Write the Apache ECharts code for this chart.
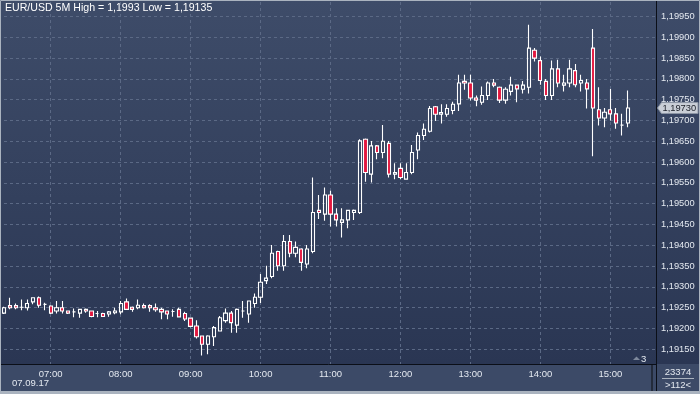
<!DOCTYPE html>
<html><head><meta charset="utf-8">
<script src="https://cdn.jsdelivr.net/npm/echarts@6/dist/echarts.min.js"></script>
<style>html,body{margin:0;padding:0;background:#2f3c58;}#c{width:700px;height:394px;}</style>
</head><body><div id="c"></div>
<script>
const times = ['06:20','06:25','06:30','06:35','06:40','06:45','06:50','06:55',
'07:00','07:05','07:10','07:15','07:20','07:25','07:30','07:35','07:40','07:45','07:50','07:55',
'08:00','08:05','08:10','08:15','08:20','08:25','08:30','08:35','08:40','08:45','08:50','08:55',
'09:00','09:05','09:10','09:15','09:20','09:25','09:30','09:35','09:40','09:45','09:50','09:55',
'10:00','10:05','10:10','10:15','10:20','10:25','10:30','10:35','10:40','10:45','10:50','10:55',
'11:00','11:05','11:10','11:15','11:20','11:25','11:30','11:35','11:40','11:45','11:50','11:55',
'12:00','12:05','12:10','12:15','12:20','12:25','12:30','12:35','12:40','12:45','12:50','12:55',
'13:00','13:05','13:10','13:15','13:20','13:25','13:30','13:35','13:40','13:45','13:50','13:55',
'14:00','14:05','14:10','14:15','14:20','14:25','14:30','14:35','14:40','14:45','14:50','14:55',
'15:00','15:05','15:10','15:15'];
const emptySlots = ['15:20','15:25','15:30','15:35','15:40'];

const opens = [1.19237,1.19255,1.19255,1.19251,1.19250,1.19264,1.19274,1.19258,
1.19254,1.19242,1.19250,1.19242,1.19240,1.19237,1.19246,1.19242,1.19236,1.19236,1.19235,1.19238,
1.19240,1.19264,1.19251,1.19250,1.19255,1.19255,1.19250,1.19246,1.19242,1.19241,1.19246,1.19236,
1.19225,1.19206,1.19182,1.19162,1.19180,1.19194,1.19219,1.19237,1.19208,1.19242,1.19235,1.19260,
1.19275,1.19315,1.19325,1.19385,1.19351,1.19409,1.19381,1.19391,1.19355,1.19385,1.19484,1.19475,
1.19521,1.19475,1.19455,1.19461,1.19479,1.19479,1.19655,1.19571,1.19639,1.19623,1.19645,1.19571,
1.19585,1.19559,1.19575,1.19629,1.19664,1.19674,1.19733,1.19715,1.19715,1.19724,1.19740,1.19794,
1.19790,1.19754,1.19744,1.19760,1.19790,1.19780,1.19749,1.19770,1.19785,1.19775,1.19780,1.19869,
1.19844,1.19794,1.19760,1.19824,1.19785,1.19790,1.19820,1.19790,1.19790,1.19874,1.19726,1.19706,
1.19726,1.19716,1.19689,1.19694];
const highs = [1.19252,1.19274,1.19260,1.19270,1.19270,1.19274,1.19277,1.19262,
1.19256,1.19266,1.19266,1.19243,1.19248,1.19246,1.19248,1.19243,1.19242,1.19238,1.19242,1.19250,
1.19266,1.19272,1.19253,1.19270,1.19260,1.19258,1.19260,1.19250,1.19242,1.19246,1.19250,1.19240,
1.19226,1.19220,1.19182,1.19184,1.19206,1.19230,1.19248,1.19242,1.19248,1.19266,1.19266,1.19284,
1.19331,1.19351,1.19401,1.19387,1.19425,1.19425,1.19409,1.19393,1.19401,1.19563,1.19521,1.19539,
1.19531,1.19489,1.19489,1.19484,1.19486,1.19655,1.19657,1.19651,1.19641,1.19689,1.19651,1.19597,
1.19597,1.19597,1.19641,1.19671,1.19693,1.19735,1.19735,1.19739,1.19739,1.19745,1.19810,1.19810,
1.19810,1.19760,1.19782,1.19794,1.19800,1.19782,1.19780,1.19805,1.19785,1.19795,1.19930,1.19874,
1.19854,1.19800,1.19844,1.19846,1.19810,1.19846,1.19836,1.19810,1.19800,1.19920,1.19780,1.19730,
1.19776,1.19730,1.19716,1.19772];
const lows = [1.19235,1.19246,1.19246,1.19244,1.19243,1.19258,1.19250,1.19244,
1.19235,1.19236,1.19236,1.19235,1.19227,1.19226,1.19238,1.19227,1.19227,1.19228,1.19228,1.19234,
1.19234,1.19245,1.19240,1.19246,1.19248,1.19240,1.19240,1.19222,1.19222,1.19228,1.19227,1.19218,
1.19203,1.19176,1.19135,1.19138,1.19158,1.19194,1.19214,1.19190,1.19190,1.19226,1.19214,1.19250,
1.19261,1.19307,1.19321,1.19339,1.19339,1.19371,1.19371,1.19339,1.19345,1.19381,1.19463,1.19459,
1.19445,1.19445,1.19419,1.19441,1.19461,1.19475,1.19553,1.19551,1.19607,1.19609,1.19563,1.19559,
1.19559,1.19559,1.19571,1.19607,1.19653,1.19671,1.19699,1.19693,1.19709,1.19715,1.19723,1.19774,
1.19748,1.19734,1.19738,1.19749,1.19780,1.19742,1.19740,1.19760,1.19744,1.19765,1.19765,1.19842,
1.19786,1.19749,1.19749,1.19780,1.19770,1.19780,1.19780,1.19770,1.19729,1.19614,1.19688,1.19684,
1.19700,1.19680,1.19664,1.19684];
const closes = [1.19250,1.19250,1.19250,1.19251,1.19260,1.19274,1.19256,1.19258,
1.19237,1.19250,1.19242,1.19237,1.19240,1.19246,1.19242,1.19229,1.19236,1.19229,1.19240,1.19242,
1.19260,1.19246,1.19246,1.19256,1.19250,1.19250,1.19245,1.19240,1.19235,1.19241,1.19228,1.19223,
1.19205,1.19180,1.19162,1.19182,1.19202,1.19226,1.19237,1.19214,1.19246,1.19242,1.19266,1.19275,
1.19311,1.19321,1.19381,1.19351,1.19409,1.19381,1.19395,1.19359,1.19391,1.19479,1.19479,1.19521,
1.19475,1.19461,1.19461,1.19484,1.19484,1.19651,1.19575,1.19639,1.19623,1.19650,1.19571,1.19575,
1.19563,1.19575,1.19623,1.19664,1.19679,1.19729,1.19715,1.19719,1.19729,1.19739,1.19790,1.19790,
1.19754,1.19749,1.19760,1.19790,1.19785,1.19749,1.19775,1.19785,1.19776,1.19785,1.19874,1.19850,
1.19796,1.19760,1.19824,1.19790,1.19790,1.19824,1.19786,1.19796,1.19776,1.19730,1.19706,1.19720,
1.19716,1.19694,1.19689,1.19730];

const yTicks = [1.1915,1.1920,1.1925,1.1930,1.1935,1.1940,1.1945,1.1950,1.1955,1.1960,1.1965,1.1970,1.1975,1.1980,1.1985,1.1990,1.1995];
const dateLabel = '07.09.17';
const titleText = 'EUR/USD 5M';
const volumeText = '23374';
const barsText = '>112<';
const markerText = '3';

const fmt = v => String(v).replace('.', ',');
const categories = times.concat(emptySlots);
const candleData = times.map((t, i) => [opens[i], closes[i], lows[i], highs[i]]);
const hi = Math.max.apply(null, highs), lo = Math.min.apply(null, lows);
const lastClose = closes[closes.length - 1];

const FONT = 'Liberation Sans';
const TXT = '#e4e9f0';
const isHour = (i, v) => /:00$/.test(v);

const chart = echarts.init(document.getElementById('c'), null, {renderer: 'canvas'});
chart.setOption({
  animation: false,
  backgroundColor: 'transparent',
  grid: {left: 4, right: 43, top: 2, bottom: 30, containLabel: false},
  xAxis: {
    type: 'category', data: categories, boundaryGap: false,
    axisLine: {show: false}, axisTick: {show: false},
    axisLabel: {interval: isHour, color: TXT, fontFamily: FONT, fontSize: 9.5, margin: 5},
    splitLine: {show: true, interval: isHour, lineStyle: {color: '#5b6985', type: [3, 3], width: 1}}
  },
  yAxis: {
    type: 'value', position: 'right', min: 1.1911466, max: 1.1998486,
    axisLine: {show: false},
    axisTick: {show: false, customValues: yTicks},
    axisLabel: {customValues: yTicks, color: TXT, fontFamily: FONT, fontSize: 9.3, margin: 4,
      formatter: v => v.toFixed(5).replace('.', ',')},
    splitLine: {show: true, lineStyle: {color: '#5b6985', type: [3, 3], width: 1}}
  },
  series: [{
    type: 'candlestick', data: candleData, barWidth: 3.7, clip: true,
    itemStyle: {color: 'transparent', color0: '#e3173e', borderColor: '#ffffff', borderColor0: '#ffffff', borderColorDoji: '#ffffff', borderWidth: 1.1}
  }]
});

const yLast = chart.convertToPixel({yAxisIndex: 0}, lastClose);
chart.setOption({
  graphic: [
    {type: 'rect', z: -10, shape: {x: 0, y: 0, width: 700, height: 364},
      style: {fill: new echarts.graphic.LinearGradient(0, 0, 0, 1, [{offset: 0, color: '#3e4c69'}, {offset: 1, color: '#2a3653'}])}},
    {type: 'rect', z: -10, shape: {x: 0, y: 364, width: 700, height: 30}, style: {fill: '#3c4a67'}},
    {type: 'line', z: 50, shape: {x1: 0, y1: 364.5, x2: 657, y2: 364.5}, style: {stroke: '#0b0f18', lineWidth: 1}},
    {type: 'line', z: 50, shape: {x1: 656.5, y1: 0, x2: 656.5, y2: 394}, style: {stroke: '#0b0f18', lineWidth: 1}},
    {type: 'rect', z: 50, shape: {x: 651, y: 365, width: 2, height: 26}, style: {fill: '#232b3b'}},
    {type: 'rect', z: 60, shape: {x: 0.5, y: 0.5, width: 699, height: 393}, style: {fill: 'none', stroke: '#aab3bf', lineWidth: 1}},
    {type: 'rect', z: 60, shape: {x: 0, y: 391, width: 700, height: 3}, style: {fill: '#aab3bf'}},
    {type: 'text', z: 60, x: 5, y: 8, style: {text: titleText + ' High = ' + fmt(hi) + ' Low = ' + fmt(lo), fill: '#ffffff', font: '10.6px "' + FONT + '"', verticalAlign: 'middle'}},
    {type: 'text', z: 60, x: 12, y: 383, style: {text: dateLabel, fill: TXT, font: '9.5px "' + FONT + '"', verticalAlign: 'middle'}},
    {type: 'text', z: 60, x: 678, y: 372, style: {text: volumeText, fill: TXT, font: '9.5px "' + FONT + '"', align: 'center', verticalAlign: 'middle'}},
    {type: 'line', z: 60, shape: {x1: 662, y1: 378.5, x2: 694, y2: 378.5}, style: {stroke: '#aab3bf', lineWidth: 1}},
    {type: 'text', z: 60, x: 678, y: 385, style: {text: barsText, fill: TXT, font: '9.5px "' + FONT + '"', align: 'center', verticalAlign: 'middle'}},
    {type: 'polygon', z: 60, shape: {points: [[633, 360], [636.5, 356.5], [640, 360]]}, style: {fill: '#7d889b'}},
    {type: 'text', z: 60, x: 641, y: 359, style: {text: markerText, fill: TXT, font: '9.5px "' + FONT + '"', verticalAlign: 'middle'}},
    {type: 'polygon', z: 70, shape: {points: [[657.5, yLast], [661.5, yLast - 5.5], [698, yLast - 5.5], [698, yLast + 5.5], [661.5, yLast + 5.5]]},
      style: {fill: '#c9ced6', stroke: '#8d96a4', lineWidth: 1}},
    {type: 'text', z: 71, x: 662.5, y: yLast + 0.5, style: {text: lastClose.toFixed(5).replace('.', ','), fill: '#1a1e27', font: '9.3px "' + FONT + '"', verticalAlign: 'middle'}}
  ]
});
</script></body></html>
